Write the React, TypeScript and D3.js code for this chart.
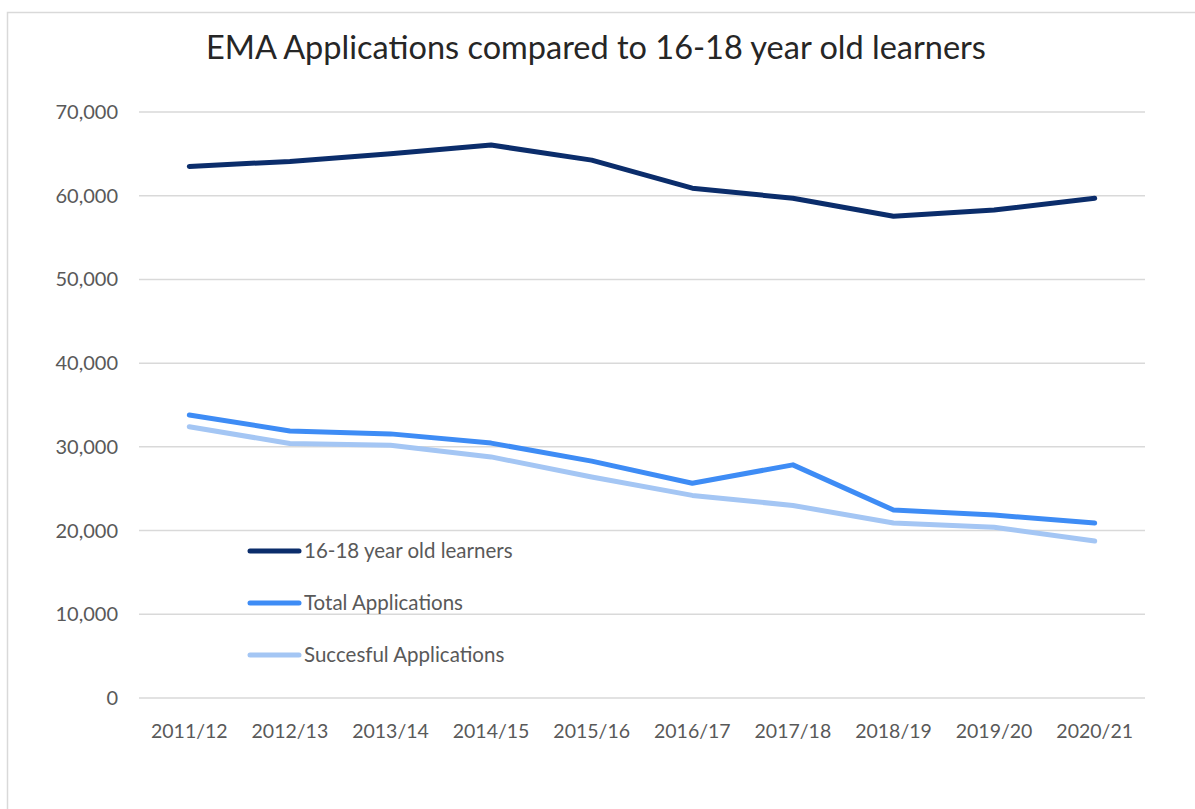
import React, { useEffect, useRef } from "react";
import * as d3 from "d3";

const years = ["2011/12", "2012/13", "2013/14", "2014/15", "2015/16", "2016/17", "2017/18", "2018/19", "2019/20", "2020/21"];
const learners = [63500, 64100, 65000, 66050, 64250, 60900, 59700, 57550, 58300, 59700];
const totalApps = [33800, 31900, 31550, 30450, 28300, 25650, 27850, 22450, 21850, 20900];
const successfulApps = [32400, 30400, 30200, 28800, 26400, 24200, 23000, 20900, 20400, 18750];
const yTicks = [0, 10000, 20000, 30000, 40000, 50000, 60000, 70000];

const seriesNames = ["16-18 year old learners", "Total Applications", "Succesful Applications"];
const seriesColors = ["#0b2d6b", "#3e8cf5", "#a4c6f4"];

export default function App() {
  const svgRef = useRef<SVGSVGElement>(null);

  useEffect(() => {
    if (!svgRef.current) return;
    const svg = d3.select(svgRef.current);
    svg.selectAll("*").remove();

    const font = "Lato, 'Noto Sans', sans-serif";
    const left = 139;
    const right = 1145;
    const top = 112;
    const bottom = 698;

    const x = d3.scaleBand().domain(years).range([left, right]);
    const y = d3.scaleLinear().domain([0, 70000]).range([bottom, top]);

    // chart frame
    svg.append("rect")
      .attr("x", 7.5).attr("y", 12.5)
      .attr("width", 1300).attr("height", 900)
      .attr("fill", "#fff").attr("stroke", "#d9d9d9").attr("stroke-width", 1.5);

    svg.append("text")
      .attr("x", 596).attr("y", 59)
      .attr("text-anchor", "middle")
      .style("font-family", font).style("font-size", "32.5px").style("fill", "#262626")
      .text("EMA Applications compared to 16-18 year old learners");

    // gridlines + y labels
    const grid = svg.append("g");
    grid.selectAll("line").data(yTicks).enter().append("line")
      .attr("x1", left).attr("x2", right)
      .attr("y1", (d) => y(d)).attr("y2", (d) => y(d))
      .attr("stroke", "#d9d9d9").attr("stroke-width", 1.5);
    grid.selectAll("text").data(yTicks).enter().append("text")
      .attr("x", 118).attr("y", (d) => y(d))
      .attr("dy", "0.35em").attr("text-anchor", "end")
      .style("font-family", font).style("font-size", "20px").style("fill", "#595959")
      .text((d) => d3.format(",")(d));

    svg.append("g").selectAll("text").data(years).enter().append("text")
      .attr("x", (d) => x(d)! + x.bandwidth() / 2).attr("y", 738)
      .attr("text-anchor", "middle")
      .style("font-family", font).style("font-size", "19.5px").style("fill", "#595959")
      .text((d) => d);

    const line = d3.line<number>()
      .x((_, i) => x(years[i])! + x.bandwidth() / 2)
      .y((d) => y(d));

    const all = [learners, totalApps, successfulApps];
    [2, 1, 0].forEach((k) => {
      svg.append("path")
        .attr("d", line(all[k]))
        .attr("fill", "none")
        .attr("stroke", seriesColors[k])
        .attr("stroke-width", 5)
        .attr("stroke-linejoin", "round")
        .attr("stroke-linecap", "round");
    });

    // legend
    const lg = svg.append("g").selectAll("g").data(seriesNames).enter().append("g")
      .attr("transform", (_, i) => `translate(248,${551 + i * 52})`);
    lg.append("line")
      .attr("x1", 2).attr("x2", 51)
      .attr("stroke", (_, i) => seriesColors[i]).attr("stroke-width", 5)
      .attr("stroke-linecap", "round");
    lg.append("text")
      .attr("x", 56).attr("dy", "0.35em")
      .style("font-family", font).style("font-size", "20.5px").style("fill", "#595959")
      .text((d) => d);
  }, []);

  return (
    <div style={{ position: "fixed", left: 0, top: 0, width: 1195, height: 809, background: "#fff" }}>
      <svg ref={svgRef} width={1195} height={809} style={{ display: "block" }} />
    </div>
  );
}
